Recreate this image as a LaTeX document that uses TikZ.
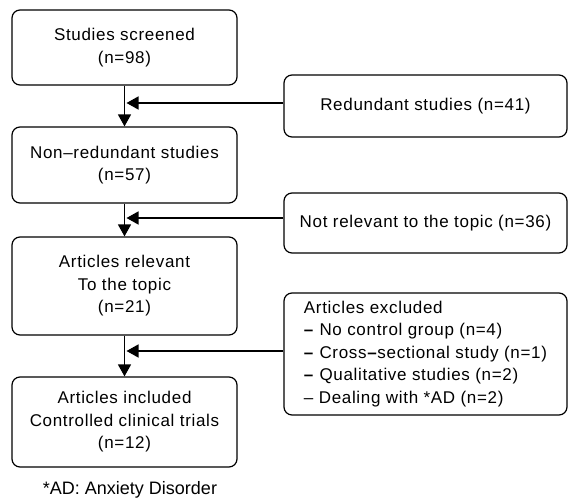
\documentclass[tikz,border=0pt]{standalone}
\usepackage{fontspec}
\setmainfont{Liberation Sans}[LetterSpace=4.0]
\newfontfamily\notefont{Liberation Sans}
\usetikzlibrary{arrows.meta}
\begin{document}
\begin{tikzpicture}[x=1pt,y=1pt,
  flowbox/.style={draw=drawColor,line width=1.2pt,rounded corners=8pt,inner sep=0pt,
    align=center,font=\fontsize{17}{22.5}\selectfont},
  flowarrow/.style={draw=drawColor,line width=1.4pt,-{Triangle[length=12pt,width=13pt]}}]
\definecolor{fillColor}{RGB}{255,255,255}
\definecolor{drawColor}{RGB}{0,0,0}
\path[use as bounding box,fill=fillColor] (0,0) rectangle (568,501);

% main column
\node[flowbox,minimum width=225,minimum height=75] (screened) at (124.5,453.5) {Studies screened\\(n=98)};
\node[flowbox,minimum width=225,minimum height=76] (nonred) at (124.5,336) {Non–redundant studies\\(n=57)};
\node[flowbox,minimum width=225,minimum height=98] (relevant) at (124.5,215) {Articles relevant\\To the topic\\(n=21)};
\node[flowbox,minimum width=225,minimum height=90] (included) at (124.5,79) {Articles included\\Controlled clinical trials\\(n=12)};

% exclusions
\node[flowbox,minimum width=283,minimum height=62] (redundant) at (425.5,395) {Redundant studies (n=41)};
\node[flowbox,minimum width=283,minimum height=60] (notrel) at (425.5,278) {Not relevant to the topic (n=36)};
\node[flowbox,minimum width=283,minimum height=122,align=left] (excluded) at (425.5,147)
  {Articles excluded\\\textbf{–} No control group (n=4)\\\textbf{–} Cross\textbf{–}sectional study (n=1)\\\textbf{–} Qualitative studies (n=2)\\– Dealing with *AD (n=2)};

\coordinate (join1) at (126.5,398);
\coordinate (join2) at (126.5,283);
\coordinate (join3) at (126.5,150);

\draw[flowarrow] (screened.south) -- (nonred.north);
\draw[flowarrow] (nonred.south) -- (relevant.north);
\draw[flowarrow] (relevant.south) -- (included.north);

\draw[flowarrow] (redundant.west |- join1) -- (join1);
\draw[flowarrow] (notrel.west |- join2) -- (join2);
\draw[flowarrow] (excluded.west |- join3) -- (join3);

\node[font=\notefont\fontsize{18}{20}\selectfont,inner sep=0pt] (note) at (130,11) {*AD: Anxiety Disorder};
\end{tikzpicture}
\end{document}
